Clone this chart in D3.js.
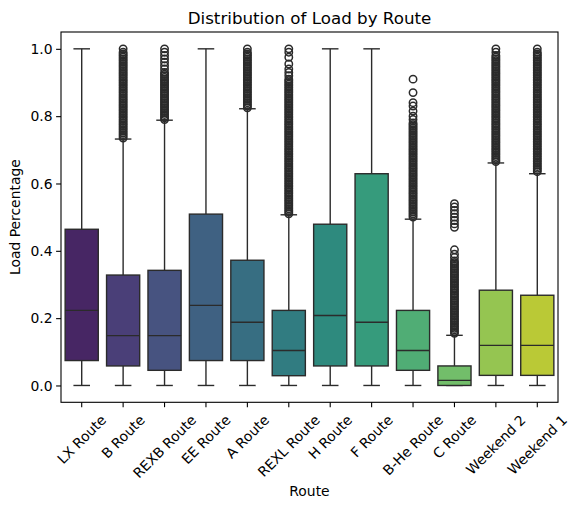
<!DOCTYPE html>
<html>
<head>
<meta charset="utf-8">
<script src="https://d3js.org/d3.v7.min.js"></script>
<style>
  body { margin: 0; background: #fff; }
  svg { font-family: "DejaVu Sans", sans-serif; }
</style>
</head>
<body>
<div id="chart"></div>
<script>
// values
var routes = ["LX Route", "B Route", "REXB Route", "EE Route", "A Route", "REXL Route",
              "H Route", "F Route", "B-He Route", "C Route", "Weekend 2", "Weekend 1"];
var whiskLo = [0, 0, 0, 0, 0, 0, 0, 0, 0, 0, 0, 0];
var q1      = [0.074, 0.058, 0.045, 0.074, 0.074, 0.029, 0.058, 0.058, 0.045, 0.0, 0.030, 0.030];
var median  = [0.223, 0.148, 0.148, 0.238, 0.188, 0.104, 0.208, 0.188, 0.104, 0.015, 0.119, 0.119];
var q3      = [0.464, 0.328, 0.342, 0.509, 0.372, 0.223, 0.479, 0.629, 0.223, 0.058, 0.283, 0.268];
var whiskHi = [1.0, 0.732, 0.788, 1.0, 0.822, 0.507, 1.0, 1.0, 0.494, 0.149, 0.661, 0.629];
var yTicks  = [0.0, 0.2, 0.4, 0.6, 0.8, 1.0];

var outB = [0.735, 0.74, 0.745, 0.75, 0.755, 0.76, 0.765, 0.77, 0.775, 0.78, 0.785, 0.79, 0.795,
            0.80, 0.805, 0.81, 0.815, 0.82, 0.825, 0.83, 0.835, 0.84, 0.845, 0.85, 0.855, 0.86,
            0.865, 0.87, 0.875, 0.88, 0.885, 0.89, 0.895, 0.90, 0.905, 0.91, 0.915, 0.92, 0.925,
            0.93, 0.935, 0.94, 0.945, 0.95, 0.955, 0.96, 0.965, 0.97, 0.975, 0.98, 0.985, 0.99, 1.0];
var outREXB = [0.79, 0.795, 0.80, 0.805, 0.81, 0.815, 0.82, 0.825, 0.83, 0.835, 0.84, 0.845,
               0.85, 0.855, 0.86, 0.865, 0.87, 0.875, 0.88, 0.885, 0.89, 0.895, 0.90, 0.905,
               0.91, 0.915, 0.92, 0.925, 0.93, 0.94, 0.95, 0.96, 0.97, 0.98, 0.99, 1.0];
var outA = [0.825, 0.83, 0.835, 0.84, 0.845, 0.85, 0.855, 0.86, 0.865, 0.87, 0.875, 0.88, 0.885,
            0.89, 0.895, 0.90, 0.905, 0.91, 0.915, 0.92, 0.925, 0.93, 0.935, 0.94, 0.945, 0.95,
            0.955, 0.96, 0.965, 0.97, 0.975, 0.98, 0.985, 0.99, 1.0];
var outREXL = [0.51, 0.515, 0.52, 0.525, 0.53, 0.535, 0.54, 0.545, 0.55, 0.555, 0.56, 0.565,
               0.57, 0.575, 0.58, 0.585, 0.59, 0.595, 0.60, 0.605, 0.61, 0.615, 0.62, 0.625,
               0.63, 0.635, 0.64, 0.645, 0.65, 0.655, 0.66, 0.665, 0.67, 0.675, 0.68, 0.685,
               0.69, 0.695, 0.70, 0.705, 0.71, 0.715, 0.72, 0.725, 0.73, 0.735, 0.74, 0.745,
               0.75, 0.755, 0.76, 0.765, 0.77, 0.775, 0.78, 0.785, 0.79, 0.795, 0.80, 0.805,
               0.81, 0.815, 0.82, 0.825, 0.83, 0.835, 0.84, 0.845, 0.85, 0.855, 0.86, 0.865,
               0.87, 0.875, 0.88, 0.885, 0.89, 0.895, 0.90, 0.905, 0.91, 0.92, 0.93, 0.94,
               0.955, 0.975, 0.99, 1.0];
var outBHe = [0.50, 0.505, 0.51, 0.515, 0.52, 0.525, 0.53, 0.535, 0.54, 0.545, 0.55, 0.555,
              0.56, 0.565, 0.57, 0.575, 0.58, 0.585, 0.59, 0.595, 0.60, 0.605, 0.61, 0.615,
              0.62, 0.625, 0.63, 0.635, 0.64, 0.645, 0.65, 0.655, 0.66, 0.665, 0.67, 0.675,
              0.68, 0.685, 0.69, 0.695, 0.70, 0.705, 0.71, 0.715, 0.72, 0.725, 0.73, 0.735,
              0.74, 0.745, 0.75, 0.755, 0.76, 0.765, 0.77, 0.775, 0.78, 0.79, 0.80, 0.815,
              0.83, 0.84, 0.87, 0.91];
var outC = [0.155, 0.16, 0.165, 0.17, 0.175, 0.18, 0.185, 0.19, 0.195, 0.20, 0.205, 0.21,
            0.215, 0.22, 0.225, 0.23, 0.235, 0.24, 0.245, 0.25, 0.255, 0.26, 0.265, 0.27,
            0.275, 0.28, 0.285, 0.29, 0.295, 0.30, 0.305, 0.31, 0.315, 0.32, 0.325, 0.33,
            0.335, 0.34, 0.345, 0.35, 0.355, 0.36, 0.365, 0.37, 0.38, 0.39, 0.403,
            0.47, 0.48, 0.49, 0.50, 0.51, 0.52, 0.53, 0.54];
var outW2 = [0.665, 0.67, 0.675, 0.68, 0.685, 0.69, 0.695, 0.70, 0.705, 0.71, 0.715, 0.72,
             0.725, 0.73, 0.735, 0.74, 0.745, 0.75, 0.755, 0.76, 0.765, 0.77, 0.775, 0.78,
             0.785, 0.79, 0.795, 0.80, 0.805, 0.81, 0.815, 0.82, 0.825, 0.83, 0.835, 0.84,
             0.845, 0.85, 0.855, 0.86, 0.865, 0.87, 0.875, 0.88, 0.885, 0.89, 0.895, 0.90,
             0.905, 0.91, 0.915, 0.92, 0.925, 0.93, 0.935, 0.94, 0.945, 0.95, 0.955, 0.96,
             0.965, 0.97, 0.975, 0.98, 0.99, 1.0];
var outW1 = [0.635, 0.64, 0.645, 0.65, 0.655, 0.66, 0.665, 0.67, 0.675, 0.68, 0.685, 0.69,
             0.695, 0.70, 0.705, 0.71, 0.715, 0.72, 0.725, 0.73, 0.735, 0.74, 0.745, 0.75,
             0.755, 0.76, 0.765, 0.77, 0.775, 0.78, 0.785, 0.79, 0.795, 0.80, 0.805, 0.81,
             0.815, 0.82, 0.825, 0.83, 0.835, 0.84, 0.845, 0.85, 0.855, 0.86, 0.865, 0.87,
             0.875, 0.88, 0.885, 0.89, 0.895, 0.90, 0.905, 0.91, 0.915, 0.92, 0.925, 0.93,
             0.935, 0.94, 0.945, 0.95, 0.955, 0.96, 0.965, 0.97, 0.975, 0.98, 0.985, 0.99, 1.0];
var outliers = [[], outB, outREXB, [], outA, outREXL, [], [], outBHe, outC, outW2, outW1];

var W = 578, H = 509;
var mLeft = 61, mRight = 558, mTop = 32, mBottom = 402.3;
var lineCol = "#2b2b2b";
var fs = 13.9;

var svg = d3.select("#chart").append("svg")
  .attr("width", W).attr("height", H);

var x = d3.scaleBand().domain(routes).range([mLeft, mRight]).padding(0);
var y = d3.scaleLinear().domain([-0.05, 1.05]).range([mBottom, mTop]);

// seaborn viridis palette, desaturated 0.75
function boxColor(i) {
  var c = d3.hsl(d3.interpolateViridis((i + 1) / (routes.length + 1)));
  c.s = c.s * 0.75;
  return c.formatHex();
}

var bw = x.bandwidth() * 0.8;
var capW = bw / 2;
var lw = 1.4;

var g = svg.append("g");

routes.forEach(function(r, i) {
  var cx = x(r) + x.bandwidth() / 2;
  var gg = g.append("g");
  // whiskers
  gg.append("line").attr("x1", cx).attr("x2", cx)
    .attr("y1", y(q1[i])).attr("y2", y(whiskLo[i]))
    .attr("stroke", lineCol).attr("stroke-width", lw);
  gg.append("line").attr("x1", cx).attr("x2", cx)
    .attr("y1", y(q3[i])).attr("y2", y(whiskHi[i]))
    .attr("stroke", lineCol).attr("stroke-width", lw);
  // caps
  [whiskLo[i], whiskHi[i]].forEach(function(v) {
    gg.append("line").attr("x1", cx - capW / 2).attr("x2", cx + capW / 2)
      .attr("y1", y(v)).attr("y2", y(v))
      .attr("stroke", lineCol).attr("stroke-width", lw);
  });
  // box
  gg.append("rect")
    .attr("x", cx - bw / 2).attr("width", bw)
    .attr("y", y(q3[i])).attr("height", y(q1[i]) - y(q3[i]))
    .attr("fill", boxColor(i))
    .attr("stroke", lineCol).attr("stroke-width", lw);
  gg.append("line").attr("x1", cx - bw / 2).attr("x2", cx + bw / 2)
    .attr("y1", y(median[i])).attr("y2", y(median[i]))
    .attr("stroke", lineCol).attr("stroke-width", lw);
  // fliers
  gg.selectAll("circle").data(outliers[i]).enter().append("circle")
    .attr("cx", cx).attr("cy", function(d) { return y(d); })
    .attr("r", 3.7)
    .attr("fill", "none").attr("stroke", lineCol).attr("stroke-width", 1.5);
});

// frame
svg.append("rect")
  .attr("x", mLeft).attr("y", mTop)
  .attr("width", mRight - mLeft).attr("height", mBottom - mTop)
  .attr("fill", "none").attr("stroke", "#000").attr("stroke-width", 1.1);

// y axis
var yAxis = svg.append("g")
  .attr("transform", "translate(" + mLeft + ",0)")
  .call(d3.axisLeft(y).tickValues(yTicks).tickFormat(d3.format(".1f")).tickSize(4.9).tickPadding(3.5));
yAxis.select(".domain").remove();
yAxis.selectAll("line").attr("stroke", "#000").attr("stroke-width", 1.1);
yAxis.selectAll("text").attr("font-size", fs).attr("fill", "#000")
  .attr("font-family", "DejaVu Sans").attr("dy", "0.34em");

// x axis
var xAxis = svg.append("g")
  .attr("transform", "translate(0," + mBottom + ")")
  .call(d3.axisBottom(x).tickSize(4.9).tickPadding(0));
xAxis.select(".domain").remove();
xAxis.selectAll("line").attr("stroke", "#000").attr("stroke-width", 1.1);
xAxis.selectAll("text")
  .attr("font-size", fs).attr("fill", "#000").attr("font-family", "DejaVu Sans")
  .attr("text-anchor", "middle").attr("dy", "0.35em").attr("y", 0)
  .attr("transform", function() {
    var w = this.getComputedTextLength();
    var h = fs * 1.1;
    var ext = (w + h) / Math.SQRT2;
    return "translate(0," + (4.9 + 4.9 + ext / 2) + ") rotate(-45)";
  });

// titles
svg.append("text")
  .attr("x", (mLeft + mRight) / 2).attr("y", 23.7)
  .attr("text-anchor", "middle").attr("font-size", 16.7)
  .text("Distribution of Load by Route");

svg.append("text")
  .attr("x", (mLeft + mRight) / 2).attr("y", 495.5)
  .attr("text-anchor", "middle").attr("font-size", fs)
  .text("Route");

svg.append("text")
  .attr("transform", "translate(20," + ((mTop + mBottom) / 2) + ") rotate(-90)")
  .attr("text-anchor", "middle").attr("font-size", fs)
  .text("Load Percentage");
</script>
</body>
</html>
